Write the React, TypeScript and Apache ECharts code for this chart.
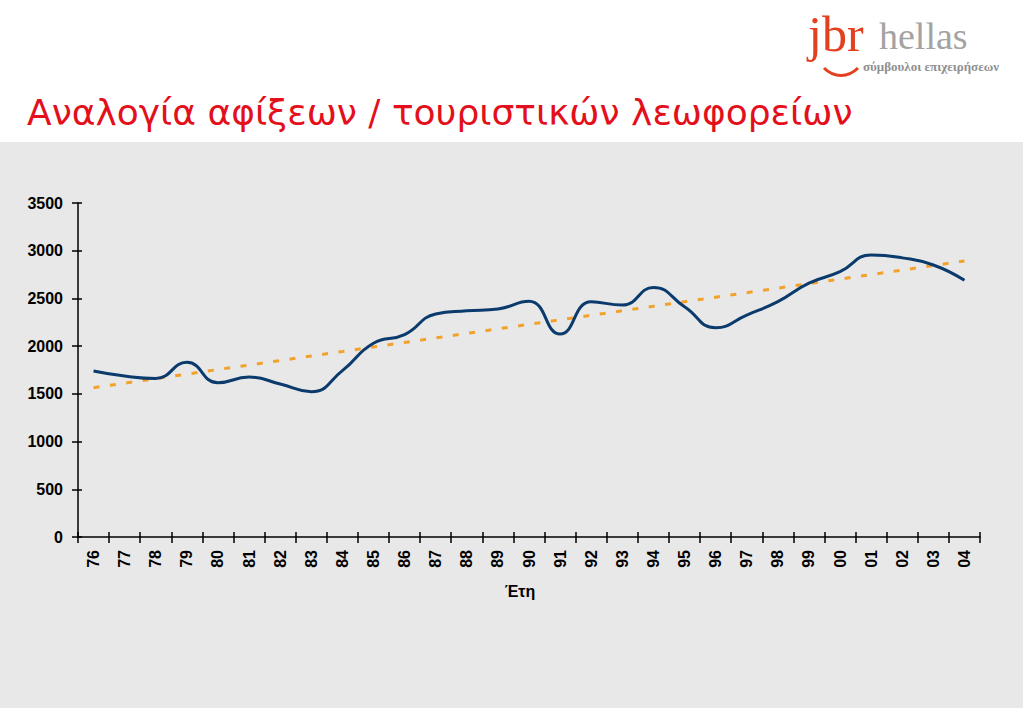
import React, { useEffect, useRef } from "react";
import * as echarts from "echarts";

const years: string[] = ["76","77","78","79","80","81","82","83","84","85","86","87","88","89","90","91","92","93","94","95","96","97","98","99","00","01","02","03","04"];
const ratio: number[] = [1740,1687,1662,1830,1617,1676,1603,1523,1743,2030,2120,2337,2370,2390,2470,2127,2465,2430,2615,2413,2193,2326,2466,2660,2780,2955,2925,2850,2690];
const trend: number[] = [1565,1612,1660,1707,1755,1802,1849,1897,1944,1992,2039,2086,2134,2181,2229,2276,2323,2371,2418,2466,2513,2560,2608,2655,2703,2750,2797,2845,2892];
const titleText = "Αναλογία αφίξεων / τουριστικών λεωφορείων";
const xName = "Έτη";

export default function App() {
  const ref = useRef<HTMLDivElement>(null);
  useEffect(() => {
    if (!ref.current) return;
    const chart = echarts.init(ref.current, undefined, { renderer: "svg" });
    const lab = { fontFamily: "Liberation Sans, Arial, sans-serif", fontWeight: "bold" as const, fontSize: 16, color: "#000" };
    chart.setOption({
      animation: false,
      backgroundColor: "transparent",
      grid: { left: 78, right: 43, top: 203, bottom: 171, containLabel: false },
      xAxis: [
        {
          type: "category",
          data: years,
          boundaryGap: true,
          axisLine: { lineStyle: { color: "#000", width: 1.5 } },
          axisTick: { show: true, inside: false, length: 6, interval: 0, lineStyle: { color: "#000", width: 1.5 } },
          axisLabel: { ...lab, rotate: 90, margin: 13, interval: 0 },
          splitLine: { show: false },
        },
        {
          type: "category",
          data: years,
          position: "bottom",
          boundaryGap: true,
          axisLine: { show: false },
          axisTick: { show: true, inside: true, length: 5, interval: 0, lineStyle: { color: "#000", width: 1.5 } },
          axisLabel: { show: false },
          splitLine: { show: false },
        },
      ],
      yAxis: [
        {
          type: "value",
          min: 0,
          max: 3500,
          interval: 500,
          axisLine: { show: true, lineStyle: { color: "#000", width: 1.5 } },
          axisTick: { show: true, inside: false, length: 6, lineStyle: { color: "#000", width: 1.5 } },
          axisLabel: { ...lab, margin: 15, formatter: (v: number) => String(v) },
          splitLine: { show: false },
        },
        {
          type: "value",
          min: 0,
          max: 3500,
          interval: 500,
          position: "left",
          axisLine: { show: false },
          axisTick: { show: true, inside: true, length: 4, lineStyle: { color: "#000", width: 1.5 } },
          axisLabel: { show: false },
          splitLine: { show: false },
        },
      ],
      series: [
        {
          type: "line",
          data: trend,
          symbol: "none",
          lineStyle: { color: "#f2a22c", width: 3, type: [6, 10.5] },
          z: 2,
        },
        {
          type: "line",
          data: ratio,
          symbol: "none",
          smooth: 0.5,
          lineStyle: { color: "#0b3a6c", width: 3 },
          z: 3,
        },
      ],
      graphic: [
        {
          type: "text",
          x: 27,
          y: 112,
          style: { text: titleText, fill: "#e3101c", font: "36px 'DejaVu Sans', Verdana, sans-serif", verticalAlign: "middle", align: "left" },
        },
        {
          type: "text",
          x: 520,
          y: 591,
          style: { text: xName, fill: "#000", font: "bold 16px 'Liberation Sans', Arial, sans-serif", verticalAlign: "middle", align: "center" },
        },
        {
          type: "text",
          x: 808,
          y: 34,
          style: { text: "jbr", fill: "#e2401f", font: "50px 'Liberation Serif', 'Times New Roman', serif", verticalAlign: "middle", align: "left" },
        },
        {
          type: "text",
          x: 879,
          y: 36,
          style: { text: "hellas", fill: "#a3a3a3", font: "38px 'Liberation Serif', 'Times New Roman', serif", verticalAlign: "middle", align: "left" },
        },
        {
          type: "text",
          x: 863,
          y: 66,
          style: { text: "σύμβουλοι επιχειρήσεων", fill: "#8f8f8f", font: "bold 13px 'Liberation Serif', 'Times New Roman', serif", verticalAlign: "middle", align: "left" },
        },
        {
          type: "bezierCurve",
          shape: { x1: 824, y1: 68, cpx1: 834, cpy1: 78, cpx2: 848, cpy2: 78, x2: 858, y2: 68 },
          style: { stroke: "#e2401f", lineWidth: 3, fill: "none" },
        },
      ],
    });
    return () => chart.dispose();
  }, []);
  return (
    <div style={{ position: "absolute", left: 0, top: 0, width: 1023, height: 708, background: "#fff", overflow: "hidden" }}>
      <div style={{ position: "absolute", left: 0, top: 142, width: 1023, height: 566, background: "#e8e8e8" }} />
      <div ref={ref} style={{ position: "absolute", left: 0, top: 0, width: 1023, height: 708 }} />
    </div>
  );
}
